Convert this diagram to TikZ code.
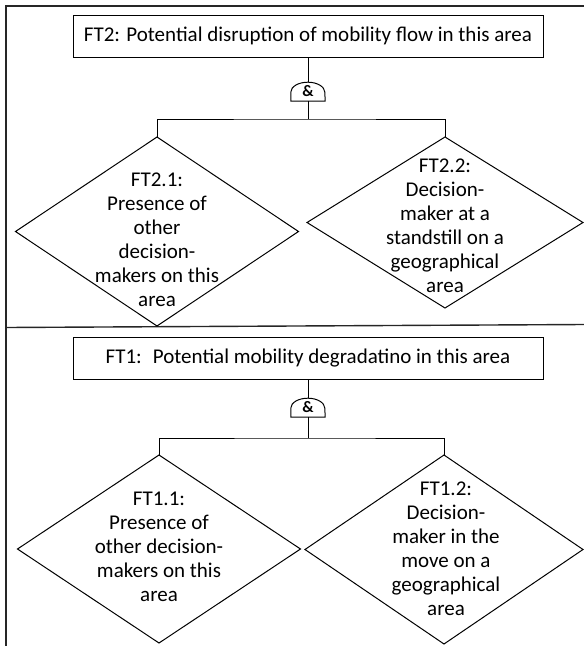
\documentclass[tikz,border=0pt]{standalone}
\usepackage{fontspec}
\setmainfont{Carlito}
\usetikzlibrary{shapes.geometric}

\begin{document}
\begin{tikzpicture}[
  x=1pt, y=-1pt,
  every node/.style={font=\fontsize{21}{24}\selectfont},
  topbox/.style={draw, line width=1pt, minimum width=470pt, minimum height=42pt, inner sep=0pt},
  evdiam/.style={diamond, draw, line width=1pt, inner sep=0pt, outer sep=0pt},
  evtext/.style={align=center, inner sep=0pt},
  andgate/.style={minimum width=34pt, minimum height=19pt, inner sep=0pt, font=\fontsize{16}{16}\selectfont\bfseries},
  wire/.style={draw, line width=1pt},
  frame/.style={draw=black!85, line width=1.4pt}
]
\useasboundingbox (0,0) rectangle (584,646);

% Frame and separator
\draw[frame] (584,6) -- (6,6) -- (6,646);
\draw[frame] (6,327.5) -- (584,324.5);

% Top: FT2
\node[topbox] (ft2) at (308,36) {FT2: Potential disruption of mobility flow in this area};
\node[andgate] (g2) at (308,91.5) {\&};
\draw[wire] (g2.south west) -- ++(0,-9) arc[start angle=180, end angle=0, x radius=17pt, y radius=10pt] -- (g2.south east) -- cycle;
\coordinate (g2in) at (308,82);
\coordinate (b2) at (308,119);
\draw[wire] (ft2.south) -- (g2in);
\draw[wire] (g2.south) -- (b2);
\node[evdiam, minimum width=283pt, minimum height=189pt] (d21) at (157,231.5) {};
\node[evdiam, minimum width=276pt, minimum height=171pt] (d22) at (445,222.5) {};
\draw[wire] (d21.north) |- (b2) -| (d22.north);
\node[evtext] (t21) at (157,240) {FT2.1:\\Presence of\\other\\decision-\\makers on this\\area};
\node[evtext] (t22) at (445,226) {FT2.2:\\Decision-\\maker at a\\standstill on a\\geographical\\area};

% Bottom: FT1
\node[topbox] (ft1) at (308,358.5) {FT1:~ Potential mobility degradatino in this area};
\node[andgate] (g1) at (308,407.5) {\&};
\draw[wire] (g1.south west) -- ++(0,-9) arc[start angle=180, end angle=0, x radius=17pt, y radius=10pt] -- (g1.south east) -- cycle;
\coordinate (g1in) at (308,398);
\coordinate (b1) at (308,438);
\draw[wire] (ft1.south) -- (g1in);
\draw[wire] (g1.south) -- (b1);
\node[evdiam, minimum width=283pt, minimum height=188pt] (d11) at (159,549) {};
\node[evdiam, minimum width=278pt, minimum height=189pt] (d12) at (444,549.5) {};
\draw[wire] (d11.north) |- (b1) -| (d12.north);
\node[evtext] (t11) at (159,547) {FT1.1:\\Presence of\\other decision-\\makers on this\\area};
\node[evtext] (t12) at (446,549) {FT1.2:\\Decision-\\maker in the\\move on a\\geographical\\area};
\end{tikzpicture}
\end{document}
